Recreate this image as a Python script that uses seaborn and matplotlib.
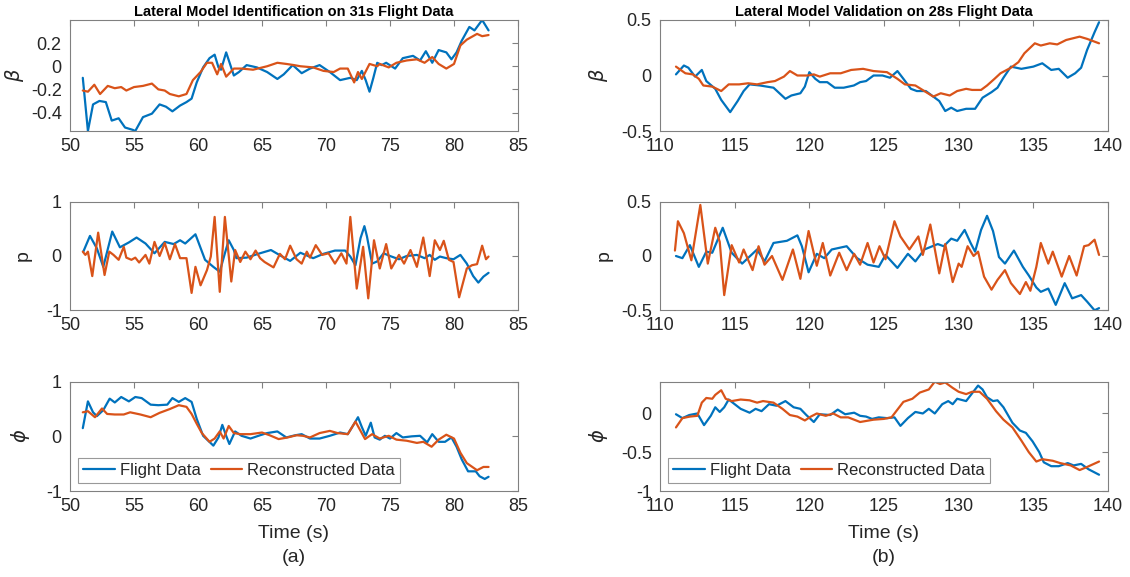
import numpy as np
import pandas as pd
import matplotlib
matplotlib.use("Agg")
import matplotlib.pyplot as plt
import seaborn as sns

# ---------------- data ----------------
# Identification (left column)
t_beta_id_fd = [51.0,51.4,51.8,52.3,52.8,53.26,53.8,54.3,54.9,55.1,55.7,56.4,57.0,57.5,58.0,58.6,59.1,59.5,59.9,60.4,60.9,61.3,61.6,61.8,62.2,62.5,62.8,63.2,63.8,64.6,65.4,66.2,66.7,67.4,68.1,68.75,69.5,70.3,71.1,71.9,72.4,72.8,73.1,73.4,73.7,74.0,74.35,74.7,75.4,76.0,76.8,77.35,77.8,78.3,78.8,79.4,79.8,80.2,80.6,81.2,81.6,82.2,82.7]
beta_id_fd = [-0.10,-0.56,-0.33,-0.30,-0.31,-0.47,-0.45,-0.53,-0.55,-0.56,-0.44,-0.41,-0.33,-0.35,-0.39,-0.34,-0.31,-0.28,-0.14,-0.01,0.07,0.10,-0.01,-0.03,0.12,0.02,-0.08,-0.05,0.01,-0.01,-0.05,-0.11,-0.07,0.01,-0.06,-0.02,0.01,-0.05,-0.12,-0.10,-0.12,-0.04,-0.12,-0.22,-0.10,0.03,0.01,0.03,-0.02,0.07,0.09,0.05,0.13,0.03,0.14,0.12,0.06,0.12,0.22,0.34,0.31,0.40,0.31]
t_beta_id_rc = [51.0,51.4,51.9,52.35,52.95,53.5,54.0,54.4,55.0,55.7,56.4,56.9,57.4,57.8,58.5,59.1,59.6,60.2,60.7,61.1,61.5,61.8,62.2,62.8,63.4,64.3,65.4,66.2,66.9,67.5,68.0,69.0,69.8,70.6,71.1,71.7,72.2,72.5,72.8,73.4,74.0,74.2,74.9,75.5,76.3,77.1,77.7,78.3,78.8,79.4,80.0,80.5,81.0,81.8,82.2,82.7]
beta_id_rc = [-0.21,-0.22,-0.16,-0.24,-0.17,-0.19,-0.18,-0.21,-0.18,-0.17,-0.15,-0.20,-0.21,-0.24,-0.26,-0.24,-0.12,-0.05,0.03,0.03,-0.07,0.02,-0.09,-0.02,-0.02,-0.03,0.00,0.03,0.02,0.01,0.00,-0.01,-0.04,-0.05,-0.02,-0.02,-0.14,-0.05,-0.11,0.02,0.00,0.02,-0.01,0.03,0.05,0.06,0.03,0.08,0.02,-0.02,0.02,0.18,0.23,0.28,0.26,0.27]

t_p_id_fd = [51.04,51.56,52.1,52.6,53.3,53.9,54.6,55.2,55.9,56.6,57.4,58.1,58.6,59.0,59.8,60.55,61.2,61.7,62.1,62.4,62.8,63.0,63.8,64.7,65.7,66.5,67.2,68.0,69.0,69.8,70.7,71.5,71.9,72.3,72.7,73.0,73.2,73.6,74.0,74.5,75.0,75.7,76.3,77.1,77.7,78.1,78.5,78.9,79.4,79.96,80.5,81.0,81.5,81.9,82.3,82.7]
p_id_fd = [0.08,0.37,0.14,-0.20,0.45,0.16,0.25,0.34,0.23,0.05,0.26,0.22,0.29,0.23,0.40,-0.07,-0.20,-0.29,0.05,0.29,0.11,-0.04,-0.03,0.04,0.11,0.00,-0.09,0.06,-0.04,0.04,0.10,0.10,-0.01,-0.17,0.33,0.55,0.36,-0.14,-0.10,0.05,0.00,-0.06,0.00,0.02,-0.04,0.02,-0.07,-0.01,-0.04,-0.06,0.02,-0.14,-0.37,-0.49,-0.38,-0.31]
t_p_id_rc = [51.0,51.2,51.4,51.74,52.2,52.7,53.07,53.4,53.8,54.2,54.4,54.8,55.1,55.4,55.9,56.2,56.6,57.0,57.4,57.8,58.2,58.6,59.1,59.5,59.8,60.2,60.7,61.0,61.3,61.7,62.1,62.6,62.9,63.3,63.7,64.1,64.5,64.85,65.2,65.9,66.4,66.8,67.2,67.7,68.1,68.5,68.75,69.2,69.7,70.2,70.7,71.2,71.6,71.9,72.4,72.9,73.3,73.75,74.2,74.7,75.1,75.7,76.1,76.6,77.1,77.6,78.1,78.5,78.9,79.2,79.6,79.96,80.4,81.0,81.4,81.8,82.2,82.5,82.7]
p_id_rc = [0.08,0.02,0.08,-0.37,0.43,-0.35,0.08,0.02,-0.07,0.17,-0.03,-0.07,-0.03,-0.12,0.02,-0.14,0.26,0.00,0.24,-0.06,0.22,-0.04,-0.04,-0.68,-0.20,-0.54,-0.26,-0.01,0.72,-0.66,0.72,-0.47,0.11,-0.11,0.08,-0.06,0.10,-0.04,-0.11,-0.21,0.04,-0.06,0.19,-0.06,-0.14,0.08,-0.03,0.20,0.02,0.05,-0.14,0.05,-0.14,0.72,-0.60,0.17,-0.78,0.29,-0.23,0.22,-0.23,0.02,-0.14,0.11,-0.20,0.34,-0.37,0.29,0.11,0.28,-0.07,-0.11,-0.76,-0.23,-0.17,-0.15,0.19,-0.06,-0.01]

t_phi_id_fd = [51.0,51.4,51.8,52.1,52.6,53.1,53.5,54.0,54.6,55.1,55.6,56.3,56.9,57.6,58.0,58.5,59.0,59.5,59.9,60.4,61.2,61.6,61.9,62.2,62.45,62.9,63.4,64.1,64.85,65.4,66.2,66.9,67.6,68.1,68.75,69.5,70.3,71.1,71.7,72.2,72.5,72.8,73.1,73.5,73.8,74.2,74.6,75.0,75.5,76.0,76.7,77.35,77.9,78.3,78.8,79.3,79.8,80.2,80.6,81.1,81.7,82.0,82.4,82.7]
phi_id_fd = [0.15,0.64,0.44,0.37,0.48,0.69,0.62,0.72,0.64,0.72,0.70,0.58,0.57,0.58,0.70,0.63,0.70,0.63,0.32,0.01,-0.17,-0.02,0.21,0.01,-0.14,0.09,0.01,-0.04,0.02,0.06,0.09,-0.02,0.02,0.04,-0.04,-0.04,0.01,0.07,0.04,0.23,0.35,0.17,0.01,0.25,-0.02,-0.06,0.01,-0.04,0.06,-0.02,0.00,0.01,-0.11,0.04,-0.10,-0.10,-0.02,-0.19,-0.42,-0.64,-0.64,-0.73,-0.78,-0.74]
t_phi_id_rc = [51.0,51.4,51.95,52.5,52.9,53.5,54.2,54.7,55.5,56.3,57.0,57.8,58.5,59.1,59.5,59.9,60.3,60.9,61.3,61.7,62.0,62.4,62.8,63.3,64.1,65.0,65.6,66.3,67.0,67.7,68.2,68.75,69.5,70.3,70.9,71.7,72.3,72.7,73.05,73.6,74.2,74.9,75.5,76.3,77.1,77.6,78.25,78.8,79.4,80.0,80.5,81.0,81.8,82.3,82.7]
phi_id_rc = [0.44,0.46,0.35,0.51,0.41,0.40,0.40,0.44,0.40,0.35,0.43,0.50,0.57,0.54,0.41,0.23,0.06,-0.10,-0.04,0.09,-0.04,0.19,0.06,0.04,0.04,0.07,0.02,-0.05,-0.02,0.02,0.01,-0.02,0.06,0.10,0.06,0.04,0.27,0.10,-0.05,0.04,-0.04,0.01,-0.06,-0.08,-0.12,-0.10,-0.19,-0.06,0.03,-0.04,-0.30,-0.49,-0.62,-0.56,-0.56]

# Validation (right column)
t_beta_va_fd = [111.07,111.6,111.9,112.35,112.8,113.1,113.7,114.1,114.7,115.2,115.6,116.0,116.7,117.6,118.4,118.8,119.4,119.7,120.0,120.4,120.7,121.2,121.7,122.3,122.98,123.4,123.8,124.3,124.9,125.4,125.9,126.3,126.8,127.2,127.8,128.2,128.7,129.1,129.5,129.9,130.5,131.1,131.6,132.2,132.6,133.0,133.5,134.2,135.0,135.6,136.2,136.7,137.3,137.8,138.2,138.6,139.1,139.4]
beta_va_fd = [0.01,0.09,0.07,-0.01,0.05,-0.05,-0.12,-0.22,-0.33,-0.23,-0.14,-0.08,-0.09,-0.11,-0.21,-0.18,-0.16,-0.10,0.03,-0.03,-0.06,-0.06,-0.11,-0.11,-0.09,-0.06,-0.05,0.00,0.00,-0.02,0.04,-0.03,-0.12,-0.14,-0.14,-0.18,-0.23,-0.32,-0.29,-0.32,-0.30,-0.30,-0.20,-0.15,-0.11,-0.02,0.08,0.06,0.08,0.11,0.05,0.06,-0.02,0.02,0.07,0.23,0.39,0.48]
t_beta_va_rc = [111.07,111.7,112.2,112.6,112.9,113.5,114.1,114.6,115.3,115.9,116.5,117.2,117.7,118.3,118.7,119.2,119.9,120.3,120.7,121.4,122.1,122.8,123.6,124.3,125.2,125.9,126.4,127.1,127.7,128.3,128.8,129.4,129.9,130.5,130.9,131.5,131.9,132.4,132.8,133.5,134.0,134.4,135.1,135.5,136.1,136.6,137.2,137.5,138.1,138.6,139.4]
beta_va_rc = [0.08,0.02,0.01,-0.03,-0.09,-0.10,-0.14,-0.08,-0.08,-0.07,-0.08,-0.06,-0.05,-0.01,0.04,0.00,0.00,0.01,-0.01,0.02,0.02,0.05,0.06,0.04,0.03,-0.03,-0.08,-0.09,-0.14,-0.19,-0.16,-0.18,-0.14,-0.12,-0.13,-0.13,-0.09,-0.03,0.02,0.07,0.12,0.20,0.29,0.27,0.29,0.28,0.32,0.33,0.35,0.33,0.29]

t_p_va_fd = [111.07,111.5,112.0,112.6,113.1,113.5,114.2,114.8,115.5,116.5,117.0,117.6,118.5,119.2,119.5,119.95,120.5,121.0,121.5,122.5,123.2,123.9,124.65,125.1,125.9,126.6,127.1,127.7,128.6,129.0,129.5,129.9,130.4,130.8,131.1,131.5,131.9,132.3,132.7,133.1,133.7,134.3,134.7,135.2,135.5,136.0,136.5,137.1,137.6,138.2,138.6,139.1,139.4]
p_va_fd = [0.00,-0.02,0.10,-0.10,0.04,0.03,0.26,0.03,-0.07,0.06,-0.05,0.12,0.14,0.19,0.09,-0.15,0.02,-0.02,0.06,0.09,-0.02,-0.08,-0.10,0.01,-0.11,0.02,-0.05,0.06,0.11,0.09,0.16,0.14,0.24,0.12,0.04,0.24,0.37,0.23,-0.01,-0.07,0.05,-0.10,-0.18,-0.29,-0.33,-0.30,-0.45,-0.25,-0.39,-0.36,-0.42,-0.50,-0.48]
t_p_va_rc = [111.0,111.2,111.6,112.1,112.7,113.2,113.7,114.0,114.3,114.8,115.3,115.6,116.2,116.6,117.0,117.5,118.2,118.9,119.4,119.95,120.5,120.9,121.4,122.0,122.5,123.0,123.4,123.9,124.3,124.7,125.1,125.7,126.1,126.7,127.3,127.6,128.1,128.7,129.1,129.6,130.0,130.2,130.6,131.0,131.3,131.7,132.2,132.6,133.1,133.5,134.1,134.5,134.8,135.2,135.5,136.0,136.3,136.9,137.4,137.9,138.4,138.7,139.1,139.4]
p_va_rc = [0.05,0.32,0.21,-0.04,0.47,-0.07,0.26,0.13,-0.36,0.10,-0.06,0.06,-0.13,0.09,-0.08,0.00,-0.22,0.06,-0.21,0.23,-0.09,0.12,-0.18,0.03,-0.13,0.02,-0.08,0.12,-0.06,0.09,-0.03,0.32,0.18,0.06,0.18,0.01,0.29,-0.16,0.11,-0.24,-0.07,-0.10,0.09,0.00,0.04,-0.19,-0.31,-0.22,-0.13,-0.25,-0.35,-0.24,-0.32,-0.10,0.12,-0.07,0.04,-0.19,0.00,-0.18,0.09,0.10,0.15,0.01]

t_phi_va_fd = [111.07,111.5,111.96,112.5,112.95,113.4,113.7,114.0,114.3,114.6,115.0,115.4,116.0,116.4,116.8,117.3,117.8,118.4,118.95,119.4,119.8,120.3,120.7,121.4,121.9,122.4,123.0,123.4,123.8,124.2,124.65,125.2,125.7,126.1,126.6,127.1,127.6,128.0,128.4,128.9,129.3,129.6,129.9,130.5,130.9,131.3,131.6,131.9,132.3,132.6,133.0,133.6,134.1,134.5,134.95,135.4,135.7,136.2,136.7,137.3,137.7,138.2,138.7,139.4]
phi_va_fd = [-0.01,-0.06,-0.02,0.00,-0.15,-0.03,0.08,0.02,0.08,0.18,0.12,0.06,0.01,0.06,0.03,0.12,0.10,0.16,0.08,0.06,-0.02,-0.11,-0.01,-0.02,0.05,-0.01,0.01,-0.03,-0.04,-0.07,-0.05,-0.06,-0.05,-0.16,-0.06,0.02,0.00,0.06,0.00,0.12,0.16,0.12,0.19,0.16,0.26,0.36,0.31,0.21,0.16,0.17,0.08,-0.12,-0.22,-0.25,-0.36,-0.50,-0.63,-0.68,-0.68,-0.64,-0.67,-0.65,-0.72,-0.79]
t_phi_va_rc = [111.07,111.5,112.0,112.5,112.8,113.1,113.5,113.7,114.1,114.4,114.8,115.4,116.0,116.5,116.9,117.6,118.2,118.7,119.2,119.7,120.1,120.5,121.1,121.6,122.1,122.6,123.4,124.3,124.99,125.5,125.9,126.3,126.9,127.4,128.0,128.4,128.75,129.1,129.6,130.0,130.5,130.9,131.4,131.9,132.5,133.0,133.6,134.2,134.7,135.2,135.6,136.3,136.8,137.5,138.1,138.6,139.4]
phi_va_rc = [-0.18,-0.06,-0.04,-0.03,0.14,0.20,0.19,0.24,0.30,0.19,0.16,0.18,0.17,0.14,0.16,0.14,0.06,-0.02,-0.04,-0.09,-0.04,0.00,-0.03,0.00,-0.05,-0.05,-0.11,-0.08,-0.07,-0.05,0.05,0.15,0.19,0.27,0.31,0.41,0.38,0.40,0.33,0.28,0.25,0.28,0.28,0.19,0.03,-0.08,-0.18,-0.35,-0.50,-0.62,-0.59,-0.61,-0.64,-0.67,-0.73,-0.69,-0.62]

titles = ["Lateral Model Identification on 31s Flight Data",
          "Lateral Model Validation on 28s Flight Data"]
series_names = ["Flight Data", "Reconstructed Data"]
ylabels = [r"$\beta$", "p", r"$\phi$"]
xlabel_text = "Time (s)"
sub_labels = ["(a)", "(b)"]

# ---------------- styling ----------------
sns.set_theme(style="white")
plt.rcParams["font.family"] = ["Liberation Sans", "DejaVu Sans"]
plt.rcParams["mathtext.fontset"] = "dejavusans"

BLUE = "#0072BD"
ORANGE = "#D95319"
SPINE = "#808080"
TXT = "#262626"

fig = plt.figure(figsize=(11.3, 5.77), dpi=100)
W, H = 1130.0, 577.0
col_x = [70, 660]
col_w = 448
rows = [(20, 131), (201.7, 310.3), (381.7, 491)]

panels = [
    [  # left column
        (t_beta_id_fd, beta_id_fd, t_beta_id_rc, beta_id_rc, (50, 85), (-0.56, 0.40), [-0.4, -0.2, 0, 0.2], ["-0.4", "-0.2", "0", "0.2"]),
        (t_p_id_fd, p_id_fd, t_p_id_rc, p_id_rc, (50, 85), (-1, 1), [-1, 0, 1], ["-1", "0", "1"]),
        (t_phi_id_fd, phi_id_fd, t_phi_id_rc, phi_id_rc, (50, 85), (-1, 1), [-1, 0, 1], ["-1", "0", "1"]),
    ],
    [  # right column
        (t_beta_va_fd, beta_va_fd, t_beta_va_rc, beta_va_rc, (110, 140), (-0.5, 0.5), [-0.5, 0, 0.5], ["-0.5", "0", "0.5"]),
        (t_p_va_fd, p_va_fd, t_p_va_rc, p_va_rc, (110, 140), (-0.5, 0.5), [-0.5, 0, 0.5], ["-0.5", "0", "0.5"]),
        (t_phi_va_fd, phi_va_fd, t_phi_va_rc, phi_va_rc, (110, 140), (-1, 0.41), [-1, -0.5, 0], ["-1", "-0.5", "0"]),
    ],
]
ylabel_x = [[-0.098, -0.085, -0.085], [-0.112, -0.105, -0.112]]

for c in range(2):
    for r in range(3):
        top, bot = rows[r]
        ax = fig.add_axes([col_x[c] / W, 1 - bot / H, col_w / W, (bot - top) / H])
        tf, vf, tr, vr, xl, yl, yt, ytl = panels[c][r]
        df_f = pd.DataFrame({"t": tf, "v": vf})
        df_r = pd.DataFrame({"t": tr, "v": vr})
        sns.lineplot(data=df_f, x="t", y="v", ax=ax, color=BLUE, linewidth=1.6,
                     estimator=None, label=series_names[0], legend=False,
                     solid_joinstyle="round", solid_capstyle="round")
        sns.lineplot(data=df_r, x="t", y="v", ax=ax, color=ORANGE, linewidth=1.6,
                     estimator=None, label=series_names[1], legend=False,
                     solid_joinstyle="round", solid_capstyle="round")
        ax.set_xlim(*xl)
        ax.set_ylim(*yl)
        xt = list(range(xl[0], xl[1] + 1, 5))
        ax.set_xticks(xt)
        ax.set_xticklabels([str(v) for v in xt])
        ax.set_yticks(yt)
        ax.set_yticklabels(ytl)
        ax.tick_params(direction="in", top=True, right=True, length=4, width=0.8,
                       color=SPINE, labelsize=13, labelcolor=TXT)
        ax.tick_params(axis="y", pad=6)
        ax.tick_params(axis="x", pad=5)
        for s in ax.spines.values():
            s.set_color(SPINE)
            s.set_linewidth(0.8)
        ax.set_xlabel("")
        ax.set_ylabel(ylabels[r], fontsize=14, color=TXT)
        ax.yaxis.set_label_coords(ylabel_x[c][r], 0.5)
        if r == 0:
            ax.set_title(titles[c], fontsize=10.5, fontweight="bold", color="black", pad=3)
        if r == 2:
            ax.set_xlabel(xlabel_text, fontsize=14, color=TXT, labelpad=7)
            leg = ax.legend(loc="lower left", bbox_to_anchor=(0.018, 0.073), borderaxespad=0,
                            ncol=2, fontsize=12, frameon=True, fancybox=False,
                            edgecolor=SPINE, handlelength=1.9, handletextpad=0.3,
                            columnspacing=0.6, borderpad=0.3)
            leg.get_frame().set_linewidth(0.8)
            for txt in leg.get_texts():
                txt.set_color(TXT)
            fig.text((col_x[c] + col_w / 2) / W, 1 - 557 / H, sub_labels[c],
                     ha="center", va="center", fontsize=14, color=TXT)

fig.savefig("out.png", dpi=100)
